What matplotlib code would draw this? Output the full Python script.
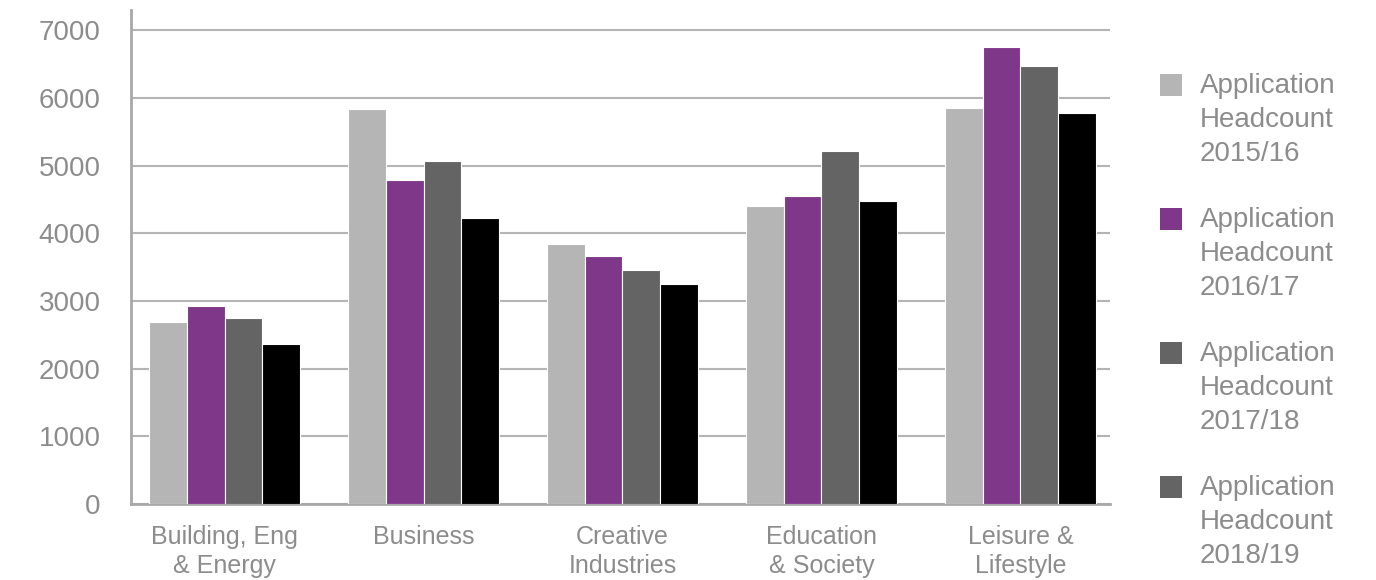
import numpy as np
import matplotlib.pyplot as plt
from matplotlib.patches import Rectangle

plt.rcParams['font.family'] = ['Liberation Sans', 'DejaVu Sans']

categories = ['Building, Eng\n& Energy', 'Business', 'Creative\nIndustries',
              'Education\n& Society', 'Leisure &\nLifestyle']
series_names = ['Application\nHeadcount\n2015/16', 'Application\nHeadcount\n2016/17',
                'Application\nHeadcount\n2017/18', 'Application\nHeadcount\n2018/19']
hc_2015 = [2690, 5830, 3840, 4400, 5845]
hc_2016 = [2925, 4780, 3665, 4550, 6745]
hc_2017 = [2750, 5060, 3460, 5210, 6475]
hc_2018 = [2365, 4220, 3250, 4475, 5775]
yticks = [0, 1000, 2000, 3000, 4000, 5000, 6000, 7000]

colors = ['#b5b5b5', '#7f3889', '#646464', '#000000']
legend_colors = ['#b5b5b5', '#7f3889', '#646464', '#646464']
text_col = '#8c8c8c'

fig = plt.figure(figsize=(13.76, 5.8), dpi=100)
ax = fig.add_axes([0.0952, 0.131, 0.7115, 0.852])

x = np.arange(len(categories))
w = 0.19
for i, vals in enumerate([hc_2015, hc_2016, hc_2017, hc_2018]):
    ax.bar(x + (i - 1.5) * w, vals, width=w, color=colors[i],
           edgecolor='white', linewidth=0.8, zorder=3)

ax.set_xlim(-0.47, 4.45)
ax.set_ylim(0, 7300)
ax.set_yticks(yticks)
ax.set_xticks(x)
ax.set_xticklabels(categories, fontsize=18, linespacing=1.25)
ax.tick_params(axis='y', labelsize=20)
ax.grid(axis='y', color='#b4b4b4', linewidth=1.5, zorder=0)
ax.tick_params(axis='both', length=0, colors=text_col)
ax.tick_params(axis='x', pad=15)
ax.tick_params(axis='y', pad=22)
for s in ['top', 'right']:
    ax.spines[s].set_visible(False)
for s in ['left', 'bottom']:
    ax.spines[s].set_color('#a8a8a8')
    ax.spines[s].set_linewidth(2)

# legend drawn by hand: square sits next to the first line of each entry
for i, (name, c) in enumerate(zip(series_names, legend_colors)):
    ytop = 0.853 - i * 0.231
    fig.patches.append(Rectangle((0.843, ytop - 0.019), 0.016, 0.038, facecolor=c,
                                 edgecolor='none', transform=fig.transFigure))
    fig.text(0.872, ytop + 0.021, name, fontsize=20, color=text_col, va='top',
             ha='left', linespacing=1.4)

fig.savefig('out.png', dpi=100)
